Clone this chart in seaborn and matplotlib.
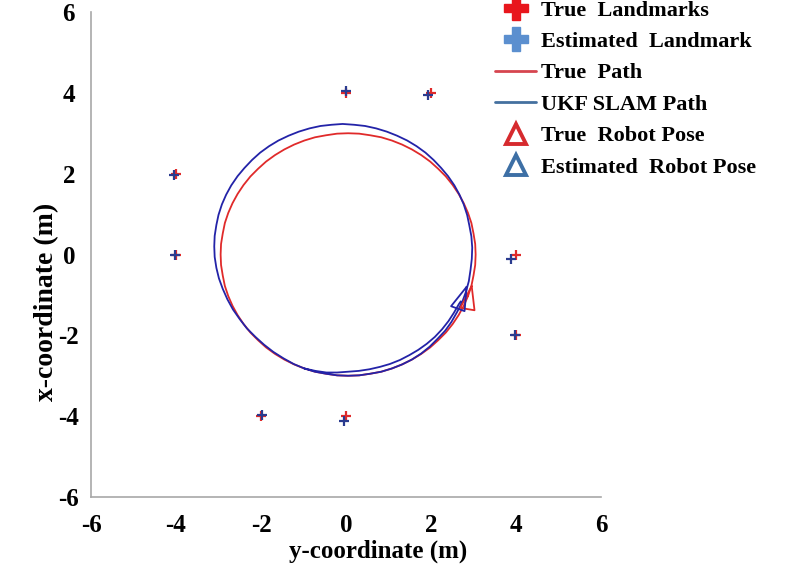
import numpy as np
import pandas as pd
import matplotlib
matplotlib.use("Agg")
import matplotlib.pyplot as plt
from matplotlib.lines import Line2D
import seaborn as sns

# ---------------- data (plot coords: horizontal = y-coordinate, vertical = x-coordinate) -------------
true_lm_h = [0, 2, -4, -4, 4, 4, -2, 0]
true_lm_v = [4, 4, 2, 0, 0, -2, -4, -4]
est_lm_h = [0.00, 1.93, -4.05, -4.02, 3.88, 3.98, -1.98, -0.05]
est_lm_v = [4.05, 3.95, 1.97, 0.00, -0.11, -2.00, -3.97, -4.12]

true_path_h = [2.87, 2.95, 3.00, 3.04, 3.05,
               3.04, 3.00, 2.95, 2.87, 2.77, 2.65, 2.51, 2.35, 2.17, 1.98, 1.77, 1.55,
               1.32, 1.08, 0.83, 0.57, 0.31, 0.05,
               -0.21, -0.47, -0.73, -0.98, -1.22, -1.45, -1.67, -1.88, -2.07, -2.25, -2.41,
               -2.55, -2.67, -2.77, -2.85, -2.90, -2.94, -2.95,
               -2.94, -2.90, -2.85, -2.77, -2.67, -2.55, -2.41, -2.25, -2.07, -1.88, -1.67,
               -1.45, -1.22, -0.98, -0.73, -0.47, -0.21, 0.05,
               0.31, 0.57, 0.83, 1.08, 1.32, 1.55, 1.77, 1.98, 2.17, 2.35, 2.51, 2.65, 2.77, 2.87]
true_path_v = [-1.03, -0.78, -0.52, -0.26, 0.00,
               0.26, 0.52, 0.78, 1.03, 1.27, 1.50, 1.72, 1.93, 2.12, 2.30, 2.46, 2.60,
               2.72, 2.82, 2.90, 2.95, 2.99, 3.00,
               2.99, 2.95, 2.90, 2.82, 2.72, 2.60, 2.46, 2.30, 2.12, 1.93, 1.72,
               1.50, 1.27, 1.03, 0.78, 0.52, 0.26, 0.00,
               -0.26, -0.52, -0.78, -1.03, -1.27, -1.50, -1.72, -1.93, -2.12, -2.30, -2.46,
               -2.60, -2.72, -2.82, -2.90, -2.95, -2.99, -3.00,
               -2.99, -2.95, -2.90, -2.82, -2.72, -2.60, -2.46, -2.30, -2.12, -1.93, -1.72,
               -1.50, -1.27, -1.03]

ukf_path_h = [-0.98, -0.73, -0.47, -0.21, 0.05, 0.31, 0.57, 0.83, 1.08, 1.32, 1.55, 1.77,
              1.97, 2.15, 2.33, 2.48, 2.61, 2.73, 2.82, 2.89, 2.93, 2.96, 2.97, 2.95, 2.90,
              2.85, 2.77, 2.67, 2.55, 2.40, 2.24, 2.06, 1.87, 1.66, 1.44, 1.20, 0.96,
              0.71, 0.45, 0.19, -0.08, -0.34, -0.60, -0.86, -1.11, -1.35, -1.59, -1.81,
              -2.02, -2.21, -2.39, -2.55, -2.70, -2.82, -2.92, -3.00, -3.05, -3.09, -3.10,
              -3.09, -3.05,
              -2.99, -2.90, -2.79, -2.66, -2.50, -2.33, -2.13, -1.93, -1.71, -1.47, -1.23,
              -0.98,
              -0.72, -0.46, -0.21, 0.05, 0.30, 0.55, 0.80, 1.03, 1.27, 1.49, 1.70, 1.90,
              2.09, 2.26, 2.41, 2.54, 2.66, 2.70]
ukf_path_v = [-2.82, -2.90, -2.95, -2.99, -3.00, -2.99, -2.95, -2.90, -2.82, -2.72, -2.60, -2.45,
              -2.28, -2.09, -1.89, -1.67, -1.43, -1.19, -0.93, -0.66, -0.38, -0.11, 0.17, 0.45, 0.73,
              0.98, 1.24, 1.48, 1.71, 1.94, 2.14, 2.34, 2.52, 2.68, 2.82, 2.94, 3.04,
              3.12, 3.18, 3.21, 3.23, 3.21, 3.18, 3.12, 3.04, 2.94, 2.82, 2.68,
              2.52, 2.34, 2.14, 1.94, 1.71, 1.48, 1.24, 0.98, 0.73, 0.46, 0.20,
              -0.06, -0.33,
              -0.59, -0.85, -1.11, -1.36, -1.60, -1.83, -2.04, -2.23, -2.41, -2.57, -2.71,
              -2.82,
              -2.88, -2.92, -2.92, -2.90, -2.88, -2.84, -2.78, -2.71, -2.61, -2.49, -2.36, -2.21,
              -2.04, -1.85, -1.65, -1.44, -1.22, -1.16]

# robot poses: [horizontal, vertical, heading in degrees]
true_pose = [2.89, -1.16, 80]
est_pose = [2.70, -1.16, 69]

tick_vals = [-6, -4, -2, 0, 2, 4, 6]
tick_labels = ["-6", "-4", "-2", "0", "2", "4", "6"]

legend_labels = ["True  Landmarks", "Estimated  Landmark", "True  Path",
                 "UKF SLAM Path", "True  Robot Pose", "Estimated  Robot Pose"]

# ---------------- style ----------------
sns.set_theme(style="white")
plt.rcParams["font.family"] = ["Liberation Serif", "DejaVu Serif"]
plt.rcParams["font.weight"] = "bold"
plt.rcParams["axes.unicode_minus"] = False
plt.rcParams["text.color"] = "black"
plt.rcParams["axes.labelcolor"] = "black"

RED = "#e02a2a"
BLUE = "#2323a8"
SPINE = "#a8a8a8"

fig = plt.figure(figsize=(7.98, 5.7), dpi=100)
ax = fig.add_axes([91 / 798, 1 - 497 / 570, 510 / 798, 485 / 570])

true_df = pd.DataFrame({"h": true_path_h, "v": true_path_v})
ukf_df = pd.DataFrame({"h": ukf_path_h, "v": ukf_path_v})
sns.lineplot(data=true_df, x="h", y="v", sort=False, estimator=None,
             color=RED, lw=1.3, solid_joinstyle="round", ax=ax)
sns.lineplot(data=ukf_df, x="h", y="v", sort=False, estimator=None,
             color=BLUE, lw=1.3, solid_joinstyle="round", ax=ax)

# robot triangles from poses
ROBOT_LEN = 0.58
ROBOT_HALF_W = 0.17


def robot_triangle(pose):
    cx, cy, hd = pose
    a = np.deg2rad(hd)
    f = np.array([np.cos(a), np.sin(a)])
    s = np.array([-np.sin(a), np.cos(a)])
    c = np.array([cx, cy])
    tip = c + f * ROBOT_LEN * 2 / 3
    base = c - f * ROBOT_LEN / 3
    pts = np.array([tip, base + s * ROBOT_HALF_W, base - s * ROBOT_HALF_W, tip])
    return pts[:, 0], pts[:, 1]


tx, ty = robot_triangle(true_pose)
ax.plot(tx, ty, color=RED, lw=1.3)
ex, ey = robot_triangle(est_pose)
ax.plot(ex, ey, color=BLUE, lw=1.3)

sns.scatterplot(x=true_lm_h, y=true_lm_v, marker="+", s=50, linewidth=1.6,
                color=RED, ax=ax, zorder=3)
sns.scatterplot(x=est_lm_h, y=est_lm_v, marker="+", s=50, linewidth=1.6,
                color="#2a3b8f", ax=ax, zorder=4)

ax.set_xlim(-6, 6)
ax.set_ylim(-6, 6)
ax.set_xticks(tick_vals)
ax.set_yticks(tick_vals)
ax.set_xticklabels(tick_labels, fontsize=18, fontweight="bold")
ax.set_yticklabels(tick_labels, fontsize=18, fontweight="bold")
for lab in ax.get_yticklabels():
    lab.set_horizontalalignment("center")
ax.tick_params(axis="both", direction="in", length=4, width=1, color=SPINE,
               labelcolor="black")
ax.tick_params(axis="x", pad=12)
ax.tick_params(axis="y", pad=16)
for sp in ["top", "right"]:
    ax.spines[sp].set_visible(False)
for sp in ["left", "bottom"]:
    ax.spines[sp].set_color(SPINE)
    ax.spines[sp].set_linewidth(1.2)

ax.set_xlabel("y-coordinate (m)", fontsize=18, fontweight="bold", va="center", color="black")
ax.set_ylabel("x-coordinate (m)", fontsize=20, fontweight="bold", va="center", color="black")
ax.xaxis.set_label_coords(0.563, -0.111)
ax.yaxis.set_label_coords(-0.088, 0.402)
ax.set_facecolor("white")

handles = [
    Line2D([], [], ls="none", marker="P", markersize=17, color="#e8161c", mec="#e8161c"),
    Line2D([], [], ls="none", marker="P", markersize=17, color="#5b8fcf", mec="#5b8fcf"),
    Line2D([], [], color="#d6454f", lw=2),
    Line2D([], [], color="#44709f", lw=2),
    Line2D([], [], ls="none", marker="^", markersize=14, mfc="none", mec="#d62a2e", mew=2.8),
    Line2D([], [], ls="none", marker="^", markersize=14, mfc="none", mec="#3d6fa5", mew=2.8),
]
leg = fig.legend(handles=handles, labels=legend_labels, loc="upper left",
                 bbox_to_anchor=(495 / 798, 1.0), frameon=False, borderpad=0,
                 borderaxespad=0, handlelength=1.85, handletextpad=0.2, labelspacing=0.49,
                 prop={"family": "Liberation Serif", "weight": "bold", "size": 16})
for t in leg.get_texts():
    t.set_color("black")

fig.savefig("out.png", dpi=100, facecolor="white")
